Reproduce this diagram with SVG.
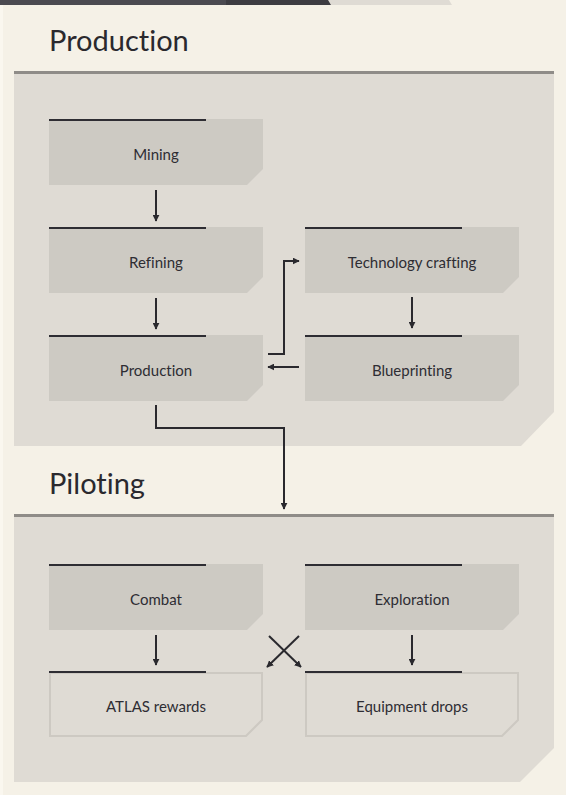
<svg xmlns="http://www.w3.org/2000/svg" width="566" height="795" viewBox="0 0 566 795">
<defs>
<style>
.title{font-family:Lato,"Noto Sans",sans-serif;font-size:29px;fill:#2a292e;font-variant-ligatures:none}
.lbl{font-family:Lato,"Noto Sans",sans-serif;font-size:15px;fill:#2e2d33;text-anchor:middle;font-variant-ligatures:none}
.panel{fill:#dfdbd4}
.sep{fill:#8f8c88}
.node{fill:#cdcac3}
.onode{fill:#dfdbd4;stroke:#cdc9c2;stroke-width:2}
.bar{stroke:#2e2d33;stroke-width:2}
.con{fill:none;stroke:#2a292e;stroke-width:2}
</style>
<marker id="ah" viewBox="0 0 10 10" refX="9" refY="5" markerWidth="3.5" markerHeight="3.5" orient="auto" markerUnits="strokeWidth">
<path d="M0,0 L10,5 L0,10 z" fill="#2a292e"/>
</marker>
</defs>
<rect width="566" height="795" fill="#f5f1e7"/>
<rect x="0" y="0" width="3" height="795" fill="#faf7ef"/>
<polygon points="0,0 449,0 452,5 0,5" fill="#dfdbd4"/>
<polygon points="0,0 328,0 331,5 0,5" fill="#3d3c42"/>
<rect x="0" y="0" width="226" height="5" fill="#4b4a51"/>

<g id="section-production">
<text class="title" x="49" y="51">Production</text>
<polygon class="panel" points="14,72 554,72 554,412 521,446 14,446"/>
<rect class="sep" x="14" y="71" width="540" height="3"/>
</g>
<g id="section-piloting">
<text class="title" x="49" y="494">Piloting</text>
<polygon class="panel" points="14,515 554,515 554,748 520,782 14,782"/>
<rect class="sep" x="14" y="514" width="540" height="3"/>
</g>

<g id="mining">
<polygon class="node" points="49,119 263,119 263,169 247,185 49,185"/>
<line class="bar" x1="49" y1="120" x2="206" y2="120"/>
<text class="lbl" x="156" y="160">Mining</text>
</g>
<g id="refining">
<polygon class="node" points="49,227 263,227 263,277 247,293 49,293"/>
<line class="bar" x1="49" y1="228" x2="206" y2="228"/>
<text class="lbl" x="156" y="268">Refining</text>
</g>
<g id="production">
<polygon class="node" points="49,335 263,335 263,385 247,401 49,401"/>
<line class="bar" x1="49" y1="336" x2="206" y2="336"/>
<text class="lbl" x="156" y="376">Production</text>
</g>
<g id="technology-crafting">
<polygon class="node" points="305,227 519,227 519,277 503,293 305,293"/>
<line class="bar" x1="305" y1="228" x2="462" y2="228"/>
<text class="lbl" x="412" y="268">Technology crafting</text>
</g>
<g id="blueprinting">
<polygon class="node" points="305,335 519,335 519,385 503,401 305,401"/>
<line class="bar" x1="305" y1="336" x2="462" y2="336"/>
<text class="lbl" x="412" y="376">Blueprinting</text>
</g>
<g id="combat">
<polygon class="node" points="49,564 263,564 263,614 247,630 49,630"/>
<line class="bar" x1="49" y1="565" x2="206" y2="565"/>
<text class="lbl" x="156" y="605">Combat</text>
</g>
<g id="exploration">
<polygon class="node" points="305,564 519,564 519,614 503,630 305,630"/>
<line class="bar" x1="305" y1="565" x2="462" y2="565"/>
<text class="lbl" x="412" y="605">Exploration</text>
</g>
<g id="atlas-rewards">
<polygon class="onode" points="50,673 262,673 262,720 246,736 50,736"/>
<line class="bar" x1="49" y1="672" x2="206" y2="672"/>
<text class="lbl" x="156" y="712">ATLAS rewards</text>
</g>
<g id="equipment-drops">
<polygon class="onode" points="306,673 518,673 518,720 502,736 306,736"/>
<line class="bar" x1="305" y1="672" x2="462" y2="672"/>
<text class="lbl" x="412" y="712">Equipment drops</text>
</g>

<g id="connectors">
<line class="con" x1="156" y1="190" x2="156" y2="221" marker-end="url(#ah)"/>
<line class="con" x1="156" y1="298" x2="156" y2="329" marker-end="url(#ah)"/>
<line class="con" x1="412" y1="297" x2="412" y2="328" marker-end="url(#ah)"/>
<polyline class="con" points="268,354 284,354 284,261 299,261" marker-end="url(#ah)"/>
<line class="con" x1="299" y1="367" x2="268" y2="367" marker-end="url(#ah)"/>
<polyline class="con" points="156,405 156,428 284,428 284,509" marker-end="url(#ah)"/>
<line class="con" x1="156" y1="635" x2="156" y2="665" marker-end="url(#ah)"/>
<line class="con" x1="412" y1="635" x2="412" y2="665" marker-end="url(#ah)"/>
<line class="con" x1="269" y1="636" x2="301" y2="667" marker-end="url(#ah)"/>
<line class="con" x1="299" y1="636" x2="267" y2="667" marker-end="url(#ah)"/>
</g>
</svg>
